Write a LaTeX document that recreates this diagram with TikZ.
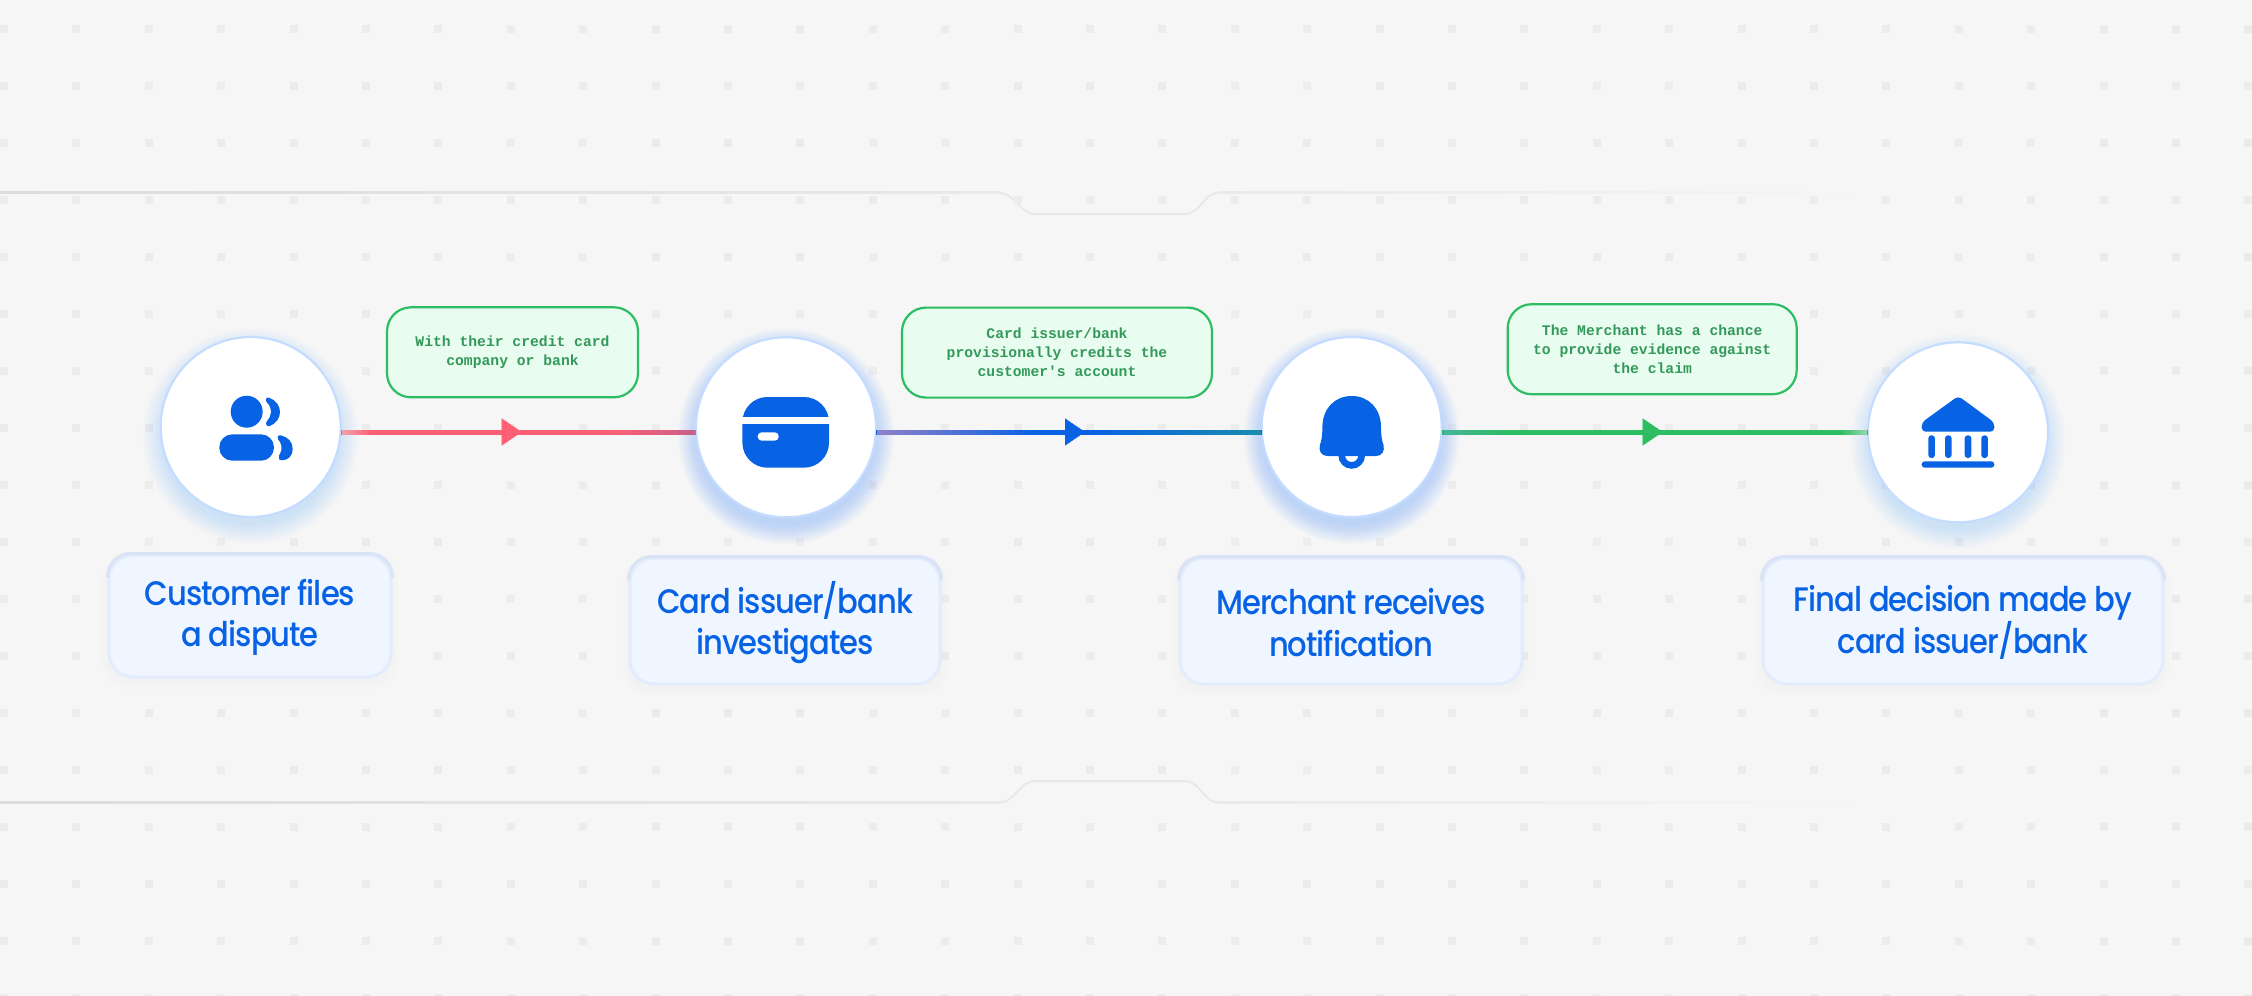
\documentclass[tikz,border=0pt]{standalone}
\usepackage{fontspec}
\usetikzlibrary{arrows.meta,decorations.markings}
\newfontfamily\labelfont[FakeStretch=0.9,LetterSpace=-3]{Poppins Medium}
\newfontfamily\notefont{Liberation Mono Bold}
\definecolor{bgc}{HTML}{F6F6F6}
\definecolor{dotc}{HTML}{ECECEC}
\definecolor{rulea}{HTML}{DCDCDC}
\definecolor{ruleb}{HTML}{E9E9E9}
\definecolor{blueI}{HTML}{0862E4}
\definecolor{ringc}{HTML}{C4DCFF}
\definecolor{glowc}{HTML}{8DBBFF}
\definecolor{labelfill}{HTML}{F0F6FF}
\definecolor{labelline}{HTML}{E2ECFC}
\definecolor{labeltop}{HTML}{D8E3F5}
\definecolor{notefill}{HTML}{E8FCF0}
\definecolor{greenL}{HTML}{2DBD62}
\definecolor{greenT}{HTML}{33995A}
\definecolor{redL}{HTML}{FF5F74}
\definecolor{redend}{HTML}{C8608A}
\definecolor{redstart}{HTML}{F0A0AC}
\definecolor{purpstart}{HTML}{8F80C8}
\definecolor{tealend}{HTML}{1B8BB0}
\definecolor{tealstart}{HTML}{45B598}
\definecolor{greenend}{HTML}{90D8AC}
\tikzset{
  stepcircle/.style={circle,minimum size=180pt,inner sep=0pt,outer sep=0pt,fill=white,draw=ringc,line width=2.2pt},
  labelbox/.style={rectangle,rounded corners=24pt,fill=labelfill,draw=labelline,line width=3pt,align=center,text=blueI,inner sep=0pt,
     font=\labelfont\fontsize{34}{41.5}\selectfont},
  notebox/.style={rectangle,rounded corners=24pt,fill=notefill,draw=greenL,line width=2.2pt,align=center,text=greenT,inner sep=0pt,
     font=\notefont\fontsize{14.7}{19}\selectfont},
  conn/.style={line width=5pt},
  iconfill/.style={fill=blueI,draw=none},
}
\newcommand{\glow}[3]{% x y opacity
  \foreach \k in {1,...,20}{
    \fill[glowc,opacity=#3] (#1,#2+9) circle ({88+\k*1.0});
  }}
\newcommand{\softbox}[4]{% x0 y0 x1 y1
  \foreach \k in {1,...,4}{
    \fill[gray,opacity=0.006,rounded corners=26pt] (#1-\k*2,#2-\k*2+5) rectangle (#3+\k*2,#4+\k*2+5);
  }}
\newcommand{\topedge}[1]{%
  \draw[labeltop,line width=3pt] ([yshift=-24pt]#1.north west) .. controls ([yshift=-10pt]#1.north west) and ([xshift=10pt]#1.north west) .. ([xshift=24pt]#1.north west)
     -- ([xshift=-24pt]#1.north east) .. controls ([xshift=-10pt]#1.north east) and ([yshift=-10pt]#1.north east) .. ([yshift=-24pt]#1.north east);}
% two lines of label text, set a little below the centre of the box
\newcommand{\lbltext}[2]{\parbox{#1pt}{\centering\vspace*{3pt}#2}}
% a colour run along a connector, in short solid pieces: x0 x1 colourA colourB
\newcommand{\colourrun}[4]{%
  \foreach \t in {0,...,29}{
    \pgfmathsetmacro{\pp}{100-\t*100/29}
    \pgfmathsetmacro{\xa}{#1+(#2-#1)*\t/30}
    \pgfmathsetmacro{\xb}{#1+(#2-#1)*(\t+1)/30+0.4}
    \fill[#3!\pp!#4] (\xa,429.5) rectangle (\xb,434.5);
  }}
\begin{document}
\begin{tikzpicture}[x=1pt,y=-1pt]
\useasboundingbox (0,0) rectangle (2252,996);
\fill[bgc] (0,0) rectangle (2252,996);

% upper and lower notched rules
\shade[left color=rulea,right color=ruleb] (0,191.7) rectangle (1000,193.7);
\draw[ruleb,line width=2pt,rounded corners=7pt] (999,192.7) -- (1006,192.7) -- (1028,214) -- (1192,214) -- (1212,192.7) -- (1219,192.7);
\shade[left color=ruleb,right color=bgc] (1218,191.7) rectangle (1880,193.7);
\shade[left color=rulea,right color=ruleb] (0,801.7) rectangle (1000,803.7);
\draw[ruleb,line width=2pt,rounded corners=7pt] (999,802.7) -- (1006,802.7) -- (1028,781) -- (1192,781) -- (1212,802.7) -- (1219,802.7);
\shade[left color=ruleb,right color=bgc] (1218,801.7) rectangle (1880,803.7);

% dot grid
\foreach \i in {0,...,31}{
  \foreach \j in {0,...,17}{
    \fill[dotc] ({4+72.4*\i-4},{29.3+57*\j-4}) rectangle +(8,8);
  }
}

% glows
\glow{250.7}{427}{0.016}
\glow{786}{427.3}{0.032}
\glow{1351.7}{427}{0.032}
\glow{1958}{432.3}{0.016}
\softbox{109}{555}{391}{677}
\softbox{630}{558}{940}{684}
\softbox{1180}{558}{1522}{684}
\softbox{1763}{558}{2163}{684}

% steps
\node[stepcircle] (c1) at (250.7,427) {};
\node[stepcircle] (c2) at (786,427.3) {};
\node[stepcircle] (c3) at (1351.7,427) {};
\node[stepcircle] (c4) at (1958,432.3) {};

% labels
\node[labelbox,minimum width=282pt,minimum height=122pt] (l1) at (250,616) {\lbltext{270}{Customer files\\a dispute}};
\node[labelbox,minimum width=310pt,minimum height=126pt] (l2) at (785,621) {\lbltext{300}{Card issuer/bank\\investigates}};
\node[labelbox,minimum width=342pt,minimum height=126pt] (l3) at (1351,621) {\lbltext{330}{Merchant receives\\notification}};
\node[labelbox,minimum width=400pt,minimum height=126pt] (l4) at (1963,621) {\lbltext{390}{Final decision made by\\card issuer/bank}};
\topedge{l1}\topedge{l2}\topedge{l3}\topedge{l4}

% notes
\node[notebox,minimum width=251pt,minimum height=90pt] (n1) at (512.5,352.3) {With their credit card\\company or bank};
\node[notebox,minimum width=310pt,minimum height=90pt] (n2) at (1057,352.6) {Card issuer/bank\\provisionally credits the\\customer's account};
\node[notebox,minimum width=289pt,minimum height=90pt] (n3) at (1652.2,349.2) {The Merchant has a chance\\to provide evidence against\\the claim};

% connectors
\coordinate (ly) at (0,432);
\draw[conn,redL] (c1.east |- ly) -- (c2.west |- ly);
\draw[conn,blueI] (c2.east |- ly) -- (c3.west |- ly);
\draw[conn,greenL] (c3.east |- ly) -- (c4.west |- ly);
% colour runs along the connectors
\colourrun{342}{372}{redstart}{redL}
\colourrun{610}{695}{redL}{redend}
\colourrun{877}{1040}{purpstart}{blueI}
\colourrun{1090}{1260.5}{blueI}{tealend}
\colourrun{1443.5}{1510}{tealstart}{greenL}
\colourrun{1840}{1866.5}{greenL}{greenend}
% arrowheads, on top of the runs
\path[postaction={decorate},decoration={markings,mark=at position 181pt with {\arrow[redL]{Triangle[length=20pt,width=27pt]}}}]
  (c1.east |- ly) -- (c2.west |- ly);
\path[postaction={decorate},decoration={markings,mark=at position 209pt with {\arrow[blueI]{Triangle[length=20pt,width=27pt]}}}]
  (c2.east |- ly) -- (c3.west |- ly);
\path[postaction={decorate},decoration={markings,mark=at position 221pt with {\arrow[greenL]{Triangle[length=20pt,width=27pt]}}}]
  (c3.east |- ly) -- (c4.west |- ly);

% icon: people
\fill[iconfill] (246.7,411.7) circle (16);
\fill[iconfill,rounded corners=13pt] (219.3,434.3) rectangle (274,460.7);
\fill[iconfill] (269,397.7) .. controls (276,400) and (280,406) .. (280,412)
  .. controls (280,418) and (276,423.5) .. (270,426)
  .. controls (267,427) and (264.5,424) .. (267,421)
  .. controls (270,417.5) and (271,414.5) .. (271,411.5)
  .. controls (271,408.5) and (270,405.5) .. (267,402.5)
  .. controls (264.5,399.5) and (266.5,396.8) .. (269,397.7) -- cycle;
\fill[iconfill] (281,435.4) .. controls (288,437) and (292.7,442) .. (292.7,449)
  .. controls (292.7,456) and (288,460.3) .. (282,460.3)
  .. controls (279,460.3) and (278,458) .. (279,455.5)
  .. controls (281.5,451) and (282,449) .. (281.5,446)
  .. controls (281,443) and (279.5,441) .. (277.8,439)
  .. controls (276.5,437) and (278,434.8) .. (281,435.4) -- cycle;

% icon: card
\fill[iconfill,rounded corners=25pt] (742.4,397) rectangle (829,467.7);
\fill[white] (741.4,416.7) rectangle (830,424.3);
\fill[white,rounded corners=4pt] (757.7,432.3) rectangle (778.7,440.7);

% icon: bell
\draw[blueI,line width=6.6pt] (1351.7,455.4) circle (10);
\fill[iconfill] (1351.7,396) .. controls (1369,396) and (1381,409) .. (1381,427)
  .. controls (1381,436) and (1382,441) .. (1383.5,445)
  .. controls (1385,451) and (1382,456) .. (1376,456)
  -- (1327.4,456)
  .. controls (1321.4,456) and (1318.4,451) .. (1319.9,445)
  .. controls (1321.4,441) and (1322.4,436) .. (1322.4,427)
  .. controls (1322.4,409) and (1334.4,396) .. (1351.7,396) -- cycle;

% icon: bank
\fill[iconfill,rounded corners=4pt] (1958.3,396) -- (1994.3,422.5) -- (1994.3,431.7) -- (1921.7,431.7) -- (1921.7,422.5) -- cycle;
\foreach \cx in {1928.3,1945,1964.7,1981.3}{
  \fill[iconfill,rounded corners=3pt] (\cx,435.3) rectangle (\cx+6.6,458);
}
\fill[iconfill,rounded corners=3pt] (1921.7,461.3) rectangle (1994.3,467.7);
\end{tikzpicture}
\end{document}
